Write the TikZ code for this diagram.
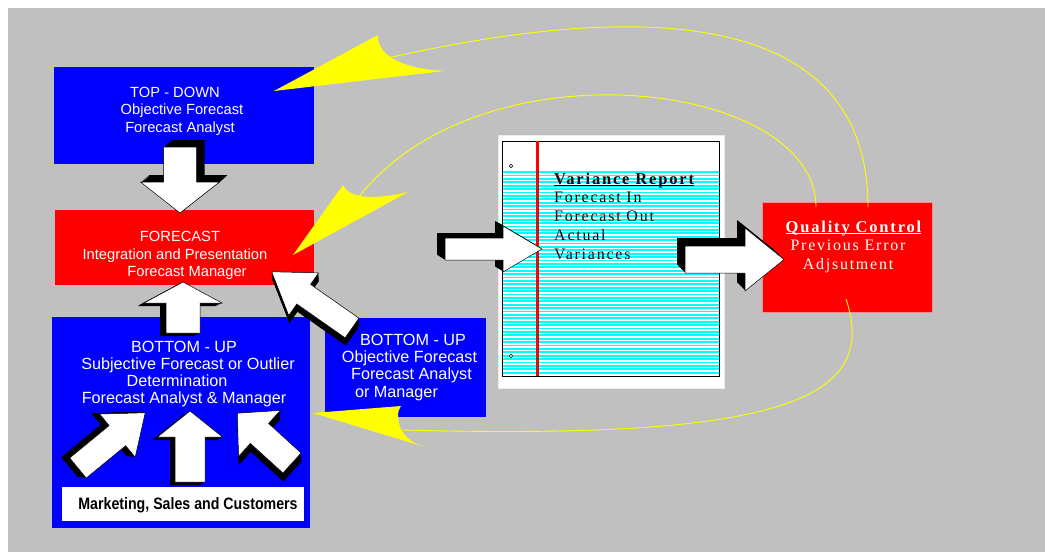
\documentclass[tikz,border=0pt]{standalone}
\usepackage{fontspec}
\setmainfont{Liberation Sans}
\newfontfamily\reportfont[LetterSpace=11]{Liberation Serif}
\newfontfamily\narrowsans[FakeStretch=0.86]{Liberation Sans}
\usetikzlibrary{calc}

\definecolor{panelgrey}{RGB}{192,192,192}
\definecolor{boxblue}{RGB}{0,0,255}
\definecolor{boxred}{RGB}{255,0,0}
\definecolor{flash}{RGB}{255,255,0}
\definecolor{ruled}{RGB}{0,255,255}

% underlined heading with a heavier rule than \underline gives
\newsavebox\ulbox
\newcommand\titleline[1]{\sbox\ulbox{#1}\rlap{\rule[-2.2pt]{\wd\ulbox}{1.1pt}}\usebox\ulbox}
% stacked lines whose baseline is the first line
\newcommand\textrows[2]{\begin{tabular}[t]{@{}#1@{}}#2\end{tabular}}
\newcommand\pad[1]{\rule{#1}{0pt}}

% 3-D block arrow: tail centre (#1,#2), direction #3, length #4,
% shaft half-width #5, head half-width #6, head length #7,
% extrusion backwards #8 and to the arrow's left #9
\newcommand\blockarrow[9]{%
  \begin{scope}[shift={(#1,#2)},rotate=#3,x=1pt,y=1pt]
    \foreach \ff in {0.125,0.25,...,1}{%
      \fill[black,shift={(-#8*\ff,#9*\ff)}] (0,-#5) -- (#4-#7,-#5) -- (#4-#7,-#6) -- (#4,0)
        -- (#4-#7,#6) -- (#4-#7,#5) -- (0,#5) -- cycle;
    }
    \filldraw[fill=white,draw=black,line width=0.5pt] (0,-#5) -- (#4-#7,-#5) -- (#4-#7,-#6)
      -- (#4,0) -- (#4-#7,#6) -- (#4-#7,#5) -- (0,#5) -- cycle;
  \end{scope}}

\tikzset{
  panel/.style={inner sep=0, outer sep=0, minimum width=#1},
  bluebox/.style={panel=0, fill=boxblue},
  redbox/.style={panel=0, fill=boxred},
  boxtext/.style={text=white, inner sep=0, font=\fontsize{14.7}{17.5}\selectfont},
  bigtext/.style={text=white, inner sep=0, font=\fontsize{16.2}{17.2}\selectfont},
  serifblock/.style={inner sep=0, font=\reportfont\fontsize{16}{18.75}\selectfont},
  feedback/.style={draw=flash, line width=0.9pt},
  callout/.style={fill=flash},
}

\begin{document}
\begin{tikzpicture}[x=1pt,y=-1pt]
\useasboundingbox (0,0) rectangle (1045,552);
\fill[white] (0,0) rectangle (1045,552);
\fill[panelgrey] (8,8) rectangle (1045,552);

% ---- boxes ----
\node[bluebox, minimum width=260, minimum height=97] (td) at (184,115.5) {};
\node[redbox, minimum width=259, minimum height=75] (fc) at (184.5,247.5) {};
\node[bluebox, minimum width=258, minimum height=211] (bus) at (181,422.5) {};
\node[bluebox, minimum width=161, minimum height=99] (buo) at (405.5,367.5) {};
\node[panel=0, fill=white, minimum width=242, minimum height=34] (msc) at (183,504) {};
\node[redbox, draw=boxred!45!white, line width=0.8pt, minimum width=170, minimum height=110] (qc) at (847,257) {};

% ---- ruled report sheet ----
\node[panel=0, fill=white, draw=black!8, minimum width=226, minimum height=253] (vr) at (611,261.5) {};
\foreach \i in {0,...,59}
  \draw[ruled, line width=1.8pt] (502,172+3.4*\i) -- (719,172+3.4*\i);
\draw[line width=0.8pt] (502,141) rectangle (719,376);
\draw[boxred, line width=3pt] (537,141.4) -- (537,375.6);
\draw[fill=white, line width=0.5pt] (511,166) circle[radius=1.8];
\draw[fill=white, line width=0.5pt] (511,356) circle[radius=1.8];

% ---- texts ----
\node[boxtext, anchor=base] (tdtext) at (182,97.3)
  {\textrows{c}{TOP - DOWN\pad{14pt}\\Objective Forecast\\Forecast Analyst\pad{4pt}}};
\node[boxtext, anchor=base] (fctext) at (175,241.5)
  {\textrows{c}{\pad{10pt}FORECAST\\Integration and Presentation\\\pad{24pt}Forecast Manager}};
\node[bigtext, anchor=base] (bustext) at (188,352)
  {\textrows{c}{BOTTOM - UP\pad{8pt}\\Subjective Forecast or Outlier\\Determination\pad{22pt}\\Forecast Analyst \& Manager\pad{8pt}}};
\node[bigtext, font=\fontsize{16.2}{17.4}\selectfont, anchor=base] (buotext) at (409.5,345)
  {\textrows{c}{\pad{7pt}BOTTOM - UP\\Objective Forecast\\\pad{4pt}Forecast Analyst\\or Manager\pad{26pt}}};
\node[inner sep=0, anchor=base, font=\narrowsans\bfseries\fontsize{16.5}{18}\selectfont] (msctext) at (188,509.3)
  {Marketing, Sales and Customers};
\node[serifblock, anchor=base west] (vrtext) at (554,184)
  {\textrows{l}{\titleline{\bfseries\fontsize{16.5}{18.75}\selectfont Variance Report}\\Forecast In\\Forecast Out\\Actual\\Variances}};
\node[serifblock, text=white, font=\reportfont\fontsize{16}{18.5}\selectfont, anchor=base] (qctext) at (848,232)
  {\textrows{c}{\pad{11pt}\titleline{\bfseries\fontsize{16.5}{18.5}\selectfont Quality Control}\\Previous Error\\Adjsutment}};

% ---- block arrows ----
\blockarrow{180}{147}{-90}{66}{16.5}{39.5}{31}{7}{8}
\blockarrow{183}{333}{90}{51}{17}{39}{21}{3}{6}
\blockarrow{352}{328}{145}{98}{12}{26}{39}{5}{6}
\blockarrow{78}{468}{39.4}{87}{13}{28}{36}{6}{6}
\blockarrow{190}{482}{90}{71}{15}{32.5}{26}{3}{5}
\blockarrow{292}{463}{137.7}{74}{13.5}{31}{30}{6}{6}
\blockarrow{445}{249}{0}{97}{11}{23}{39}{8}{5}
\blockarrow{685}{259.5}{0}{99}{13.5}{31.5}{39}{8}{8}

% ---- feedback callouts ----
\coordinate (c1) at (388,58);
\coordinate (c2) at (358,198);
\coordinate (c3) at (403,430);
\coordinate (qc1) at (868,207);
\coordinate (qc2) at (816,207);
\coordinate (qc3) at (846,299);

\fill[callout] (274,91) -- (378,35) .. controls (377,55) and (400,68) .. (444,71) -- cycle;
\fill[callout] (293,255) -- (343,185) .. controls (348,197) and (370,201) .. (408,192) -- cycle;
\fill[callout] (313,413) -- (401,406) .. controls (394,415) and (398,440) .. (425,447) -- cycle;

\draw[feedback] (qc1) .. controls (868,-10) and (600,10) .. (c1);
\draw[feedback] (qc2) .. controls (816,80) and (480,40) .. (c2);
\draw[feedback] (qc3) .. controls (880,400) and (780,440) .. (c3);
\end{tikzpicture}
\end{document}
